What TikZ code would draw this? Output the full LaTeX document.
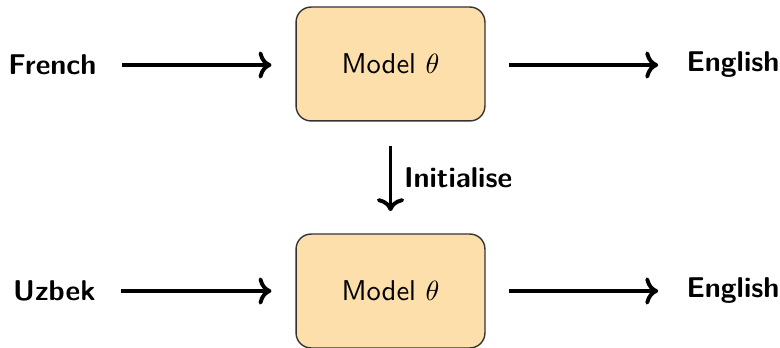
\documentclass[tikz,border=0pt]{standalone}
\usetikzlibrary{arrows.meta}
\definecolor{modelfill}{HTML}{FCDFAA}
\begin{document}
\begin{tikzpicture}[x=0.36pt,y=-0.36pt,
  font=\sffamily,
  model/.style={draw=black!80, line width=0.5pt, fill=modelfill, rounded corners=5.4pt,
    minimum width=68pt, minimum height=41pt, inner sep=0pt,
    font=\sffamily\fontsize{10.3}{12}\selectfont},
  lang/.style={font=\sffamily\bfseries\fontsize{10.3}{12.4}\selectfont, inner sep=0pt},
  flow/.style={->, line width=1.4pt}]
  \useasboundingbox (0,0) rectangle (780,348);

  % upper row: French -> model -> English
  \node[model] (m1) at (390.5,64) {Model $\theta$};
  \node[lang, anchor=east] (fr) at (97,65) {French};
  \node[lang, anchor=west] (en1) at (686,65) {English};

  % lower row: Uzbek -> model -> English
  \node[model] (m2) at (390.5,291) {Model $\theta$};
  \node[lang, anchor=east] (uz) at (96,291) {Uzbek};
  \node[lang, anchor=west] (en2) at (686,291) {English};

  % connectors
  \draw[flow, shorten <=9pt, shorten >=8.6pt] (fr.east) -- (m1.west |- fr.east);
  \draw[flow, shorten <=8.3pt, shorten >=10pt] (m1.east |- en1.west) -- (en1.west);
  \draw[flow, shorten <=9pt, shorten >=8.6pt] (uz.east) -- (m2.west |- uz.east);
  \draw[flow, shorten <=8.3pt, shorten >=10pt] (m2.east |- en2.west) -- (en2.west);

  % initialisation of the lower model from the upper one
  \draw[flow, shorten <=8.6pt, shorten >=8pt] (m1.south) -- (m2.north)
    node[midway, right, font=\sffamily\bfseries\fontsize{10.3}{12.4}\selectfont,
         inner sep=0pt, xshift=4.2pt] (init) {Initialise};
\end{tikzpicture}
\end{document}
